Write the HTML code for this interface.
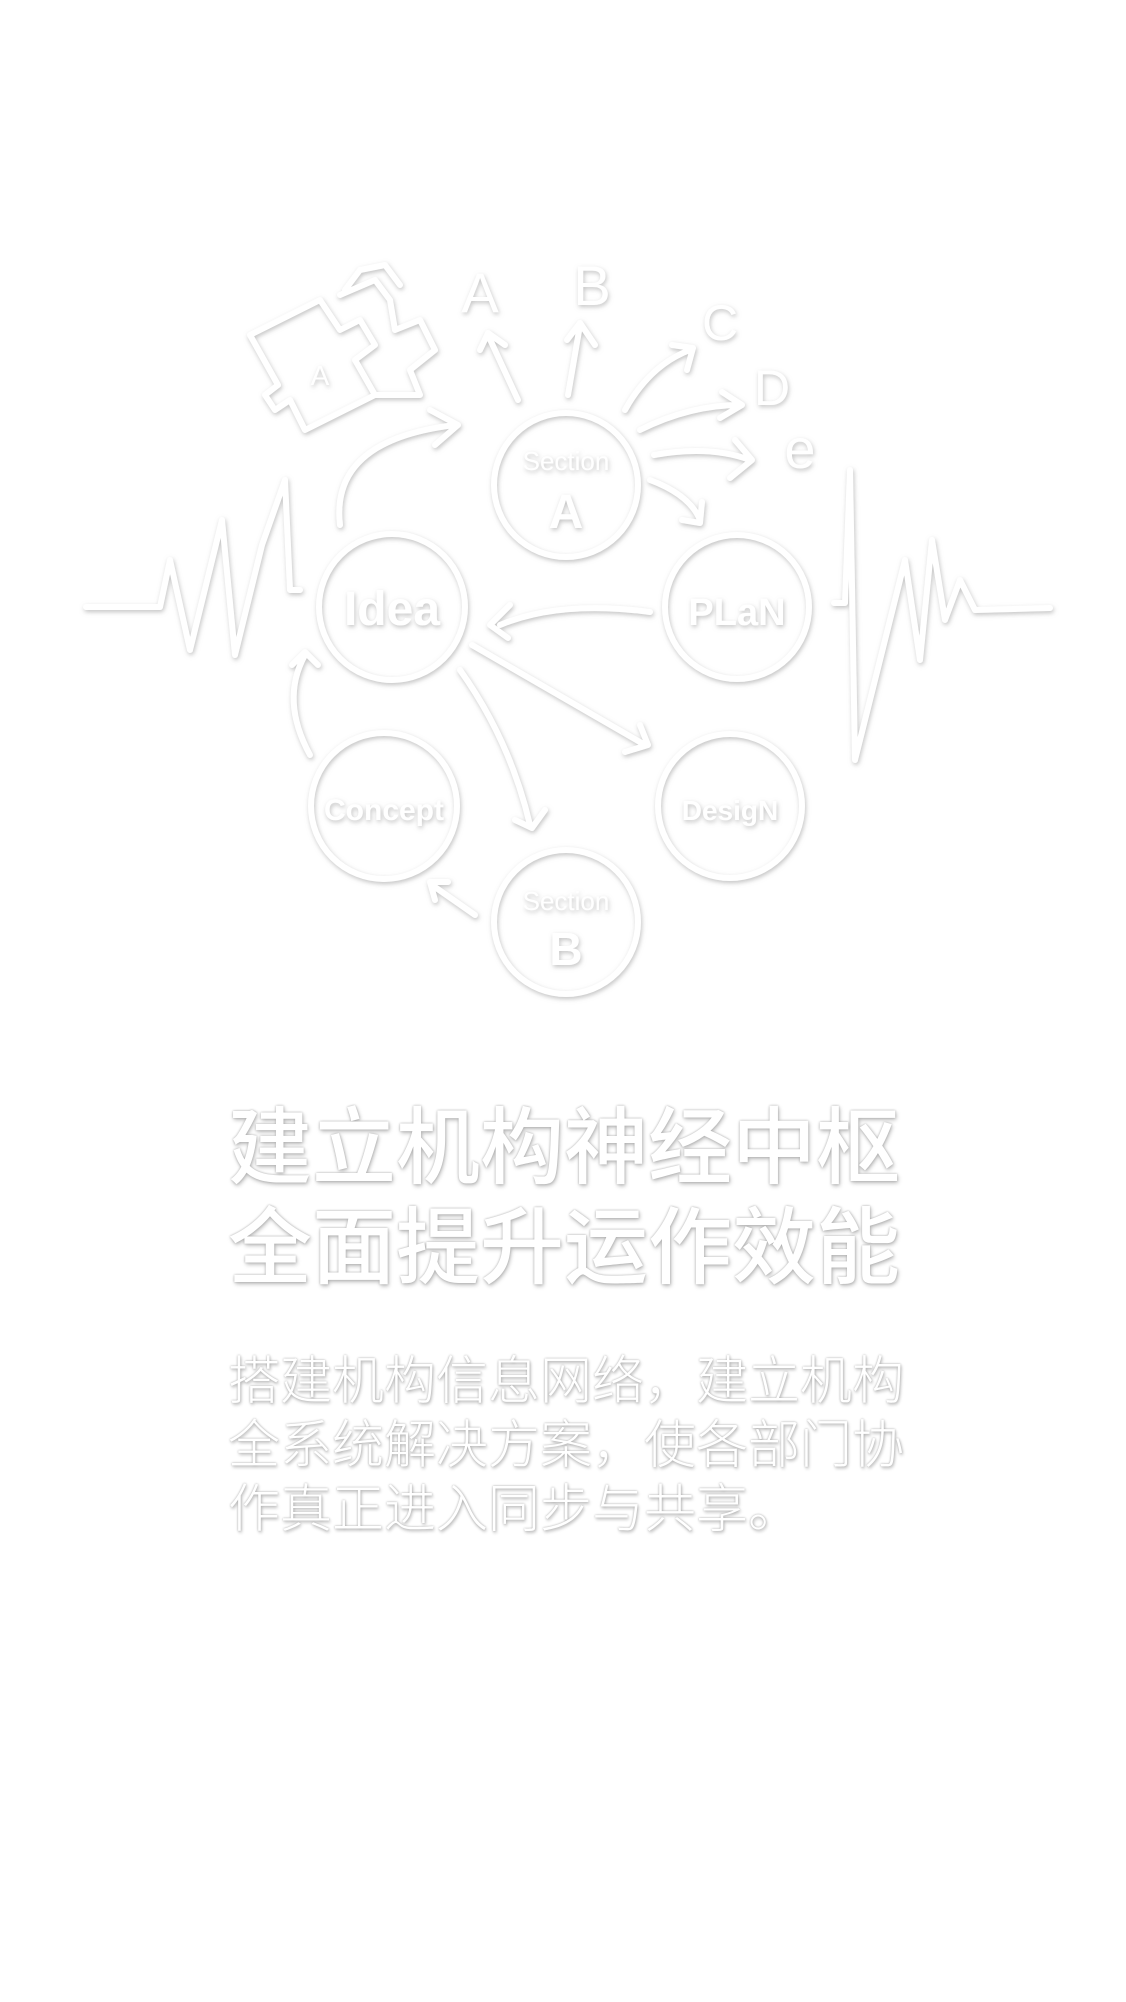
<!DOCTYPE html>
<html><head><meta charset="utf-8"><style>
html,body{margin:0;padding:0;background:#fff;}
body{width:1126px;height:2002px;position:relative;overflow:hidden;font-family:"Liberation Sans","Noto Sans CJK SC",sans-serif;}
svg{position:absolute;left:0;top:0;}
.t{position:absolute;left:228px;color:#fff;white-space:nowrap;}
.title{font-size:84px;line-height:100px;top:1098px;font-weight:500;text-shadow:0 0 2px #aaa,1px 2px 4px #bbb;letter-spacing:0px;}
.body{font-size:52px;line-height:64px;top:1350px;font-weight:300;text-shadow:0 0 2px #aaa,1px 2px 3px #bbb;}
</style></head><body>
<svg width="1126" height="2002">
<defs><filter id="sh" x="-20%" y="-20%" width="140%" height="140%">
<feDropShadow dx="1" dy="2" stdDeviation="2.5" flood-color="#999" flood-opacity="0.6"/></filter></defs>
<g fill="none" stroke="#fff" stroke-width="6" stroke-linecap="round" stroke-linejoin="round" filter="url(#sh)">
<circle cx="566" cy="485" r="72"/>
<circle cx="392" cy="607" r="73"/>
<circle cx="737" cy="607" r="72"/>
<circle cx="384" cy="806" r="73"/>
<circle cx="730" cy="806" r="72"/>
<circle cx="566" cy="922" r="72"/>
<path d="M86 607 L160 607 L170 560 L190 650 L222 520 L235 655 L262 545 L285 480 L290 590 L300 590"/>
<path d="M834 603 L845 603 L850 470 L855 760 L895 600 L905 560 L920 660 L932 540 L945 620 L960 580 L975 610 L1050 608"/>
<path d="M340 525 Q330 440 455 425 M430 410 L458 425 L435 445"/>
<path d="M518 400 L488 335 M480 350 L488 333 L505 345"/>
<path d="M568 395 L580 325 M567 340 L580 323 L595 345"/>
<path d="M625 410 Q650 365 690 350 M672 345 L693 348 L687 370"/>
<path d="M640 430 Q690 405 740 405 M722 392 L742 405 L720 418"/>
<path d="M654 455 Q710 445 750 460 M735 440 L752 460 L730 478"/>
<path d="M650 480 Q690 495 700 520 M682 520 L700 523 L702 502"/>
<path d="M650 612 Q560 600 500 625 M510 605 L490 625 L508 638"/>
<path d="M472 645 L645 745 M625 752 L648 745 L640 725"/>
<path d="M460 670 Q510 740 530 825 M515 820 L532 828 L545 810"/>
<path d="M475 915 L432 885 M435 900 L430 882 L448 882"/>
<path d="M310 755 Q280 700 305 655 M292 665 L305 652 L318 665"/>
<path d="M250 335 L320 300 L340 330 L360 320 L375 345 L355 360 L375 395 L305 430 L290 400 L275 410 L265 395 L278 385 Z M340 295 L375 280 L390 300 L395 330 L420 320 L435 350 L410 370 L420 395 L375 395 M345 290 L360 270 L385 265 L400 285"/>
</g>
<g fill="#fff" filter="url(#sh)" font-family="Liberation Sans, sans-serif" text-anchor="middle">
<text x="480" y="312" font-size="56">A</text>
<text x="592" y="305" font-size="56">B</text>
<text x="720" y="340" font-size="50">C</text>
<text x="772" y="405" font-size="50">D</text>
<text x="800" y="468" font-size="56">e</text>
<text x="320" y="385" font-size="28">A</text>
<text x="566" y="470" font-size="26">Section</text>
<text x="566" y="528" font-size="48" font-weight="bold">A</text>
<text x="392" y="625" font-size="48" font-weight="bold">Idea</text>
<text x="737" y="625" font-size="38" font-weight="bold">PLaN</text>
<text x="384" y="820" font-size="30" font-weight="bold">Concept</text>
<text x="730" y="820" font-size="28" font-weight="bold">DesigN</text>
<text x="566" y="910" font-size="26">Section</text>
<text x="566" y="965" font-size="46" font-weight="bold">B</text>
</g>
</svg>
<div class="t title">建立机构神经中枢<br>全面提升运作效能</div>
<div class="t body">搭建机构信息网络，建立机构<br>全系统解决方案，使各部门协<br>作真正进入同步与共享。</div>
</body></html>
